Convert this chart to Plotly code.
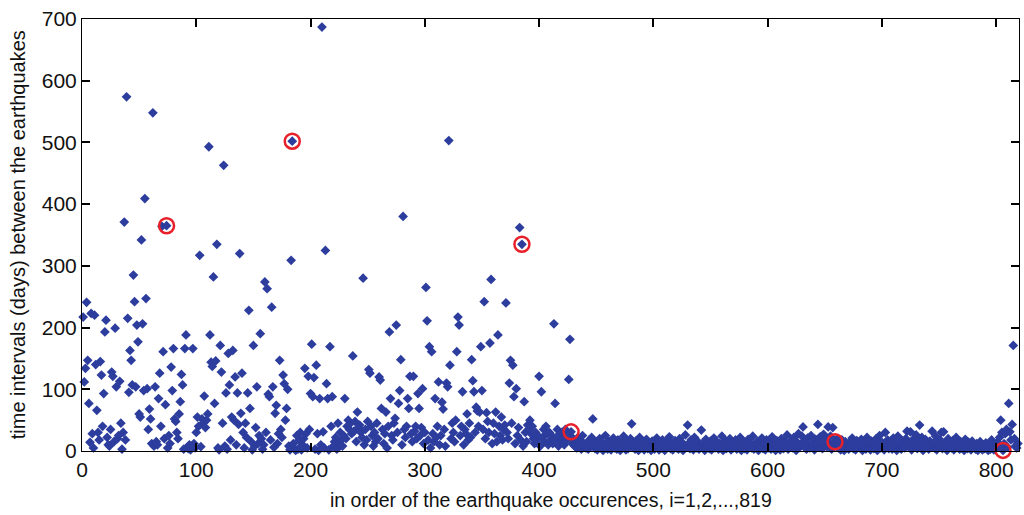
import plotly.graph_objects as go

# Time interval (days) between successive earthquakes, in order of occurrence i = 1..819
intervals = [
    217, 112, 134, 241, 147, 77, 14, 223, 28, 5,
    220, 140, 66, 30, 18, 145, 123, 40, 93, 193,
    212, 22, 10, 8, 35, 128, 121, 15, 199, 104,
    20, 25, 113, 45, 3, 30, 371, 18, 574, 215,
    95, 163, 147, 107, 285, 242, 104, 204, 177, 60,
    55, 342, 206, 98, 409, 247, 101, 35, 68, 52,
    12, 548, 8, 104, 15, 10, 85, 126, 40, 364,
    161, 20, 75, 365, 5, 25, 12, 136, 98, 166,
    52, 48, 30, 20, 60, 80, 124, 107, 3, 166,
    188, 6, 4, 10, 2, 8, 166, 12, 5, 30,
    55, 40, 317, 7, 52, 45, 89, 38, 50, 60,
    493, 188, 144, 137, 282, 77, 146, 335, 5, 2,
    171, 128, 45, 463, 8, 94, 3, 158, 107, 18,
    55, 163, 50, 120, 10, 94, 43, 320, 61, 126,
    30, 5, 45, 22, 94, 228, 69, 15, 2, 171,
    8, 38, 104, 12, 25, 190, 20, 3, 10, 274,
    30, 263, 92, 88, 18, 233, 104, 6, 61, 74,
    12, 28, 147, 35, 22, 123, 109, 50, 69, 100,
    8, 2, 309, 502, 12, 4, 1, 25, 3, 18,
    30, 2, 10, 20, 134, 28, 5, 121, 35, 93,
    173, 88, 119, 3, 139, 28, 1, 85, 10, 687,
    31, 5, 325, 109, 85, 2, 169, 40, 88, 8,
    15, 22, 3, 45, 12, 30, 18, 8, 25, 85,
    20, 40, 50, 35, 45, 28, 154, 32, 48, 15,
    63, 38, 42, 30, 22, 280, 10, 35, 18, 48,
    132, 126, 40, 25, 8, 30, 15, 45, 20, 120,
    115, 69, 35, 12, 28, 63, 5, 40, 193, 85,
    25, 18, 45, 53, 204, 30, 77, 98, 148, 10,
    380, 35, 22, 40, 85, 69, 121, 28, 15, 121,
    32, 40, 20, 93, 69, 25, 38, 101, 12, 30,
    265, 211, 18, 169, 5, 161, 28, 15, 85, 22,
    40, 112, 10, 25, 79, 68, 35, 8, 110, 104,
    503, 139, 20, 45, 30, 15, 50, 161, 217, 204,
    25, 40, 96, 10, 35, 28, 60, 18, 45, 22,
    148, 114, 96, 30, 71, 65, 40, 63, 169, 98,
    35, 242, 20, 62, 48, 30, 175, 278, 12, 45,
    28, 63, 15, 188, 40, 25, 55, 18, 35, 42,
    240, 30, 20, 110, 147, 45, 139, 88, 12, 101,
    25, 38, 362, 18, 335, 8, 80, 30, 15, 42,
    35, 50, 28, 40, 20, 12, 30, 18, 25, 121,
    8, 96, 22, 35, 15, 40, 28, 10, 30, 18,
    25, 12, 206, 77, 20, 35, 8, 28, 15, 30,
    22, 10, 35, 18, 25, 116, 181, 31, 12, 20,
    8, 15, 5, 22, 10, 18, 3, 25, 12, 8,
    5, 12, 3, 18, 8, 22, 52, 10, 4, 15,
    2, 9, 20, 6, 14, 1, 11, 25, 7, 3,
    16, 8, 2, 12, 21, 5, 10, 3, 18, 7,
    1, 13, 6, 24, 9, 2, 15, 4, 11, 20,
    44, 6, 12, 3, 17, 8, 1, 22, 10, 5,
    14, 2, 9, 19, 4, 12, 7, 1, 16, 6,
    3, 11, 21, 8, 2, 13, 5, 18, 9, 1,
    15, 6, 10, 23, 4, 12, 2, 8, 17, 5,
    11, 3, 20, 7, 14, 1, 9, 26, 6, 42,
    12, 4, 18, 8, 2, 22, 10, 5, 15, 3,
    9, 34, 6, 13, 1, 19, 7, 11, 4, 16,
    2, 10, 21, 5, 8, 14, 3, 12, 6, 24,
    1, 9, 17, 4, 11, 7, 20, 2, 13, 5,
    8, 18, 3, 10, 6, 22, 1, 12, 15, 4,
    9, 2, 19, 7, 13, 5, 24, 3, 11, 8,
    16, 1, 10, 6, 21, 4, 12, 2, 18, 9,
    5, 14, 3, 23, 8, 11, 1, 17, 6, 13,
    2, 20, 9, 4, 15, 7, 26, 3, 12, 10,
    18, 5, 22, 8, 1, 14, 28, 6, 11, 24,
    39, 9, 16, 3, 21, 12, 5, 25, 8, 14,
    2, 19, 10, 43, 6, 23, 13, 4, 27, 9,
    17, 7, 39, 11, 24, 3, 38, 14, 15, 8,
    20, 5, 12, 2, 18, 9, 1, 15, 6, 11,
    3, 14, 8, 21, 4, 10, 2, 17, 7, 12,
    5, 19, 1, 13, 9, 3, 22, 6, 11, 2,
    16, 8, 4, 12, 20, 1, 10, 25, 5, 14,
    7, 2, 30, 11, 18, 4, 9, 15, 3, 21,
    8, 13, 1, 24, 6, 10, 3, 17, 12, 5,
    20, 32, 9, 14, 31, 2, 18, 7, 11, 26,
    4, 15, 42, 8, 22, 1, 12, 19, 6, 10,
    3, 16, 9, 32, 13, 5, 24, 2, 11, 7,
    18, 30, 4, 31, 10, 14, 1, 20, 8, 12,
    5, 17, 2, 9, 22, 6, 13, 3, 15, 8,
    11, 1, 19, 7, 4, 14, 10, 2, 16, 6,
    9, 3, 12, 1, 8, 15, 5, 2, 10, 4,
    13, 7, 1, 11, 3, 18, 6, 2, 9, 5,
    14, 8, 22, 50, 30, 1, 12, 28, 35, 6,
    77, 31, 18, 43, 171, 20, 8, 5, 12,
]
order = list(range(1, len(intervals) + 1))

# Events marked with a red ring (1-based order numbers)
marked = [74, 184, 385, 428, 659, 806]
marked_intervals = [intervals[i - 1] for i in marked]

x_ticks = [0, 100, 200, 300, 400, 500, 600, 700, 800]
y_ticks = [0, 100, 200, 300, 400, 500, 600, 700]

FONT = "Liberation Sans, Arial, sans-serif"

fig = go.Figure()
fig.add_trace(go.Scatter(
    x=order, y=intervals, mode="markers",
    marker=dict(symbol="diamond", size=7.5, color="#2c3d9e", line=dict(width=0)),
    hoverinfo="x+y", showlegend=False, cliponaxis=False,
))
fig.add_trace(go.Scatter(
    x=marked, y=marked_intervals, mode="markers",
    marker=dict(symbol="circle-open", size=15, color="#e8202a", line=dict(width=2.5)),
    showlegend=False, cliponaxis=False,
))

axis_common = dict(
    showline=True, linecolor="black", linewidth=1, mirror="ticks",
    ticks="inside", ticklen=8, tickwidth=1.5, tickcolor="black",
    showgrid=False, zeroline=False,
    tickfont=dict(family=FONT, size=21, color="#111"),
)
fig.update_xaxes(range=[0, 820], tickvals=x_ticks, **axis_common)
fig.update_yaxes(range=[0, 700], tickvals=y_ticks, **axis_common)

fig.update_layout(
    width=1024, height=515,
    margin=dict(l=82, r=5, t=19, b=64),
    plot_bgcolor="white", paper_bgcolor="white",
    font=dict(family=FONT, color="#111"),
    annotations=[
        dict(text="in order of the earthquake occurences, i=1,2,...,819",
             xref="paper", yref="paper", x=0.5, y=-0.114, yanchor="middle",
             showarrow=False, font=dict(family=FONT, size=19.5, color="#111")),
        dict(text="time intervals (days) between the earthquakes",
             xref="paper", yref="paper", x=-0.068, y=0.5, xanchor="center",
             yanchor="middle", textangle=-90, showarrow=False,
             font=dict(family=FONT, size=20, color="#111")),
    ],
)

fig.write_html("out.html")
